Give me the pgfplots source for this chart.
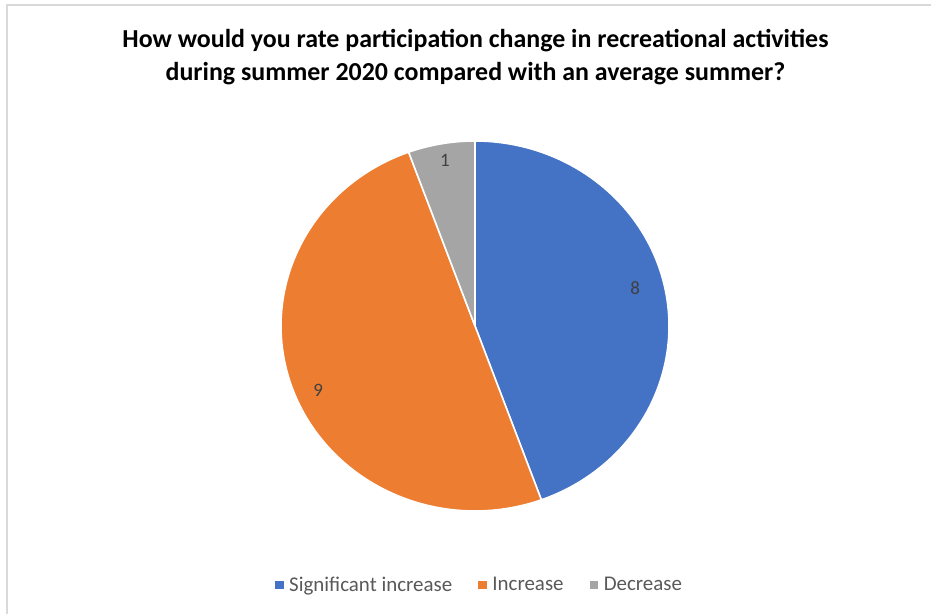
\documentclass[border=0pt]{standalone}
\usepackage{pgfplots}
\pgfplotsset{compat=1.18}
\usepackage{pgfplotstable}
\usepackage{fontspec}
\setmainfont{Carlito}
\definecolor{sigblue}{HTML}{4472C4}
\definecolor{incorange}{HTML}{ED7D31}
\definecolor{decgray}{HTML}{A5A5A5}
\definecolor{labelgray}{HTML}{404040}
\definecolor{legendgray}{HTML}{595959}
\definecolor{framegray}{HTML}{D9D9D9}

\pgfplotstableread{
value
8
9
1
}\piedata

\begin{document}
\begin{tikzpicture}[x=1bp,y=1bp]
\useasboundingbox (0,0) rectangle (931,614);
\fill[white] (0,0) rectangle (931,614);
\draw[framegray, line width=2bp] (7,0) -- (7,609) -- (931,609);
\node[font=\fontsize{26}{33}\selectfont\bfseries, align=center, text=black] at (475.5,556.5)
  {How would you rate participation change in recreational activities\\during summer 2020 compared with an average summer?};

\pgfplotstablegetelem{0}{value}\of\piedata \edef\va{\pgfplotsretval}
\pgfplotstablegetelem{1}{value}\of\piedata \edef\vb{\pgfplotsretval}
\pgfplotstablegetelem{2}{value}\of\piedata \edef\vc{\pgfplotsretval}
\pgfmathsetmacro\total{\va+\vb+\vc}
\pgfmathsetmacro\aA{90}
\pgfmathsetmacro\aB{90-360*\va/\total}
\pgfmathsetmacro\aC{\aB-360*\vb/\total}
\pgfmathsetmacro\aD{\aC-360*\vc/\total}

\begin{axis}[
  at={(475bp,288bp)}, anchor=origin,
  x=194bp, y=185bp,
  xmin=-1.2, xmax=1.2, ymin=-1.2, ymax=1.2,
  hide axis, clip=false,
  legend columns=3,
  legend style={at={(axis cs:0.023,-1.4)}, anchor=center, draw=none, fill=none,
    font=\fontsize{21}{24}\selectfont, text=legendgray,
    /tikz/every even column/.append style={column sep=24bp},
    cells={anchor=west}},
]
\addplot[fill=sigblue, draw=white, line width=1.6bp, line join=round, domain=\aB:\aA, samples=120, forget plot]
  ({cos(x)},{sin(x)}) -- (axis cs:0,0) -- cycle;
\addplot[fill=incorange, draw=white, line width=1.6bp, line join=round, domain=\aC:\aB, samples=120, forget plot]
  ({cos(x)},{sin(x)}) -- (axis cs:0,0) -- cycle;
\addplot[fill=decgray, draw=white, line width=1.6bp, line join=round, domain=\aD:\aC, samples=30, forget plot]
  ({cos(x)},{sin(x)}) -- (axis cs:0,0) -- cycle;

\node[font=\fontsize{19}{22}\selectfont, text=labelgray] at (axis cs:0.825,0.205) {\va};
\node[font=\fontsize{19}{22}\selectfont, text=labelgray] at (axis cs:-0.809,-0.346) {\vb};
\node[font=\fontsize{19}{22}\selectfont, text=labelgray] at (axis cs:-0.155,0.897) {\vc};

\addlegendimage{legend image code/.code={\fill[sigblue] (0bp,-3.5bp) rectangle (7.5bp,3.5bp); \path[draw=none,fill=none] (7.5bp,0) -- (12bp,0);}}
\addlegendentry{Significant increase}
\addlegendimage{legend image code/.code={\fill[incorange] (0bp,-3.5bp) rectangle (7.5bp,3.5bp); \path[draw=none,fill=none] (7.5bp,0) -- (12bp,0);}}
\addlegendentry{Increase}
\addlegendimage{legend image code/.code={\fill[decgray] (0bp,-3.5bp) rectangle (7.5bp,3.5bp); \path[draw=none,fill=none] (7.5bp,0) -- (12bp,0);}}
\addlegendentry{Decrease}
\end{axis}
\end{tikzpicture}
\end{document}
